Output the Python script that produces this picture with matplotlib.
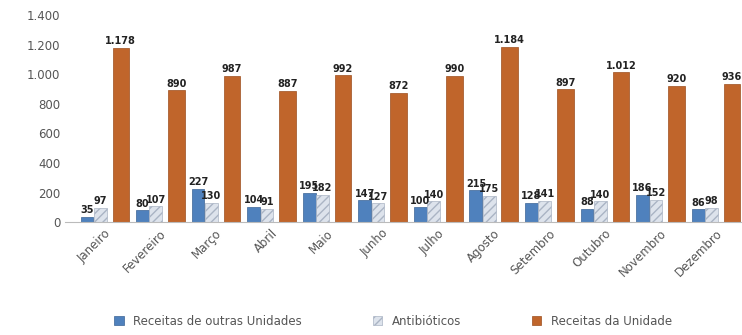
import numpy as np
import matplotlib.pyplot as plt
from matplotlib.ticker import FuncFormatter

meses = ['Janeiro', 'Fevereiro', 'Março', 'Abril', 'Maio', 'Junho', 'Julho',
         'Agosto', 'Setembro', 'Outubro', 'Novembro', 'Dezembro']
outras = [35, 80, 227, 104, 195, 147, 100, 215, 128, 88, 186, 86]
antibioticos = [97, 107, 130, 91, 182, 127, 140, 175, 141, 140, 152, 98]
unidade = [1178, 890, 987, 887, 992, 872, 990, 1184, 897, 1012, 920, 936]


def fmt(v):
    return f'{v:,}'.replace(',', '.')


fig = plt.figure(figsize=(7.42, 3.35), dpi=100)
ax = fig.add_axes([0.088, 0.337, 0.93, 0.618])

x = np.arange(len(meses))
b1 = ax.bar(x - 0.31, outras, 0.23, color='#4f81bd', edgecolor='#3b6496', linewidth=0.5,
            label='Receitas de outras Unidades')
b2 = ax.bar(x - 0.07, antibioticos, 0.23, color='#dde3ec', edgecolor='#aab4c4', hatch='////',
            linewidth=0.5, label='Antibióticos')
b3 = ax.bar(x + 0.3, unidade, 0.3, color='#c0652b', edgecolor='#9c4e1f', linewidth=0.5,
            label='Receitas da Unidade')

for bars, vals in ((b1, outras), (b2, antibioticos), (b3, unidade)):
    for r, v in zip(bars, vals):
        ax.text(r.get_x() + r.get_width() / 2, v + 12, fmt(v), ha='center', va='bottom',
                fontsize=7, fontweight='bold', color='#222222')

ax.set_ylim(0, 1400)
ax.set_yticks(range(0, 1401, 200))
ax.yaxis.set_major_formatter(FuncFormatter(lambda v, p: fmt(int(v))))
ax.set_xlim(-0.7, 11.72)
ax.set_xticks(x)
ax.set_xticklabels(meses, rotation=45, ha='right', rotation_mode='anchor')

for s in ('top', 'right', 'left'):
    ax.spines[s].set_visible(False)
ax.spines['bottom'].set_color('#bbbbbb')
ax.tick_params(axis='y', length=0, labelsize=8.5, colors='#555555')
ax.tick_params(axis='x', length=0, labelsize=8.5, colors='#555555')

fig.legend(loc='lower center', ncol=3, frameon=False, fontsize=8.5, bbox_to_anchor=(0.53, -0.01),
           handlelength=0.8, handleheight=0.8, columnspacing=6, labelcolor='#555555')

fig.savefig('out.png', dpi=100)
